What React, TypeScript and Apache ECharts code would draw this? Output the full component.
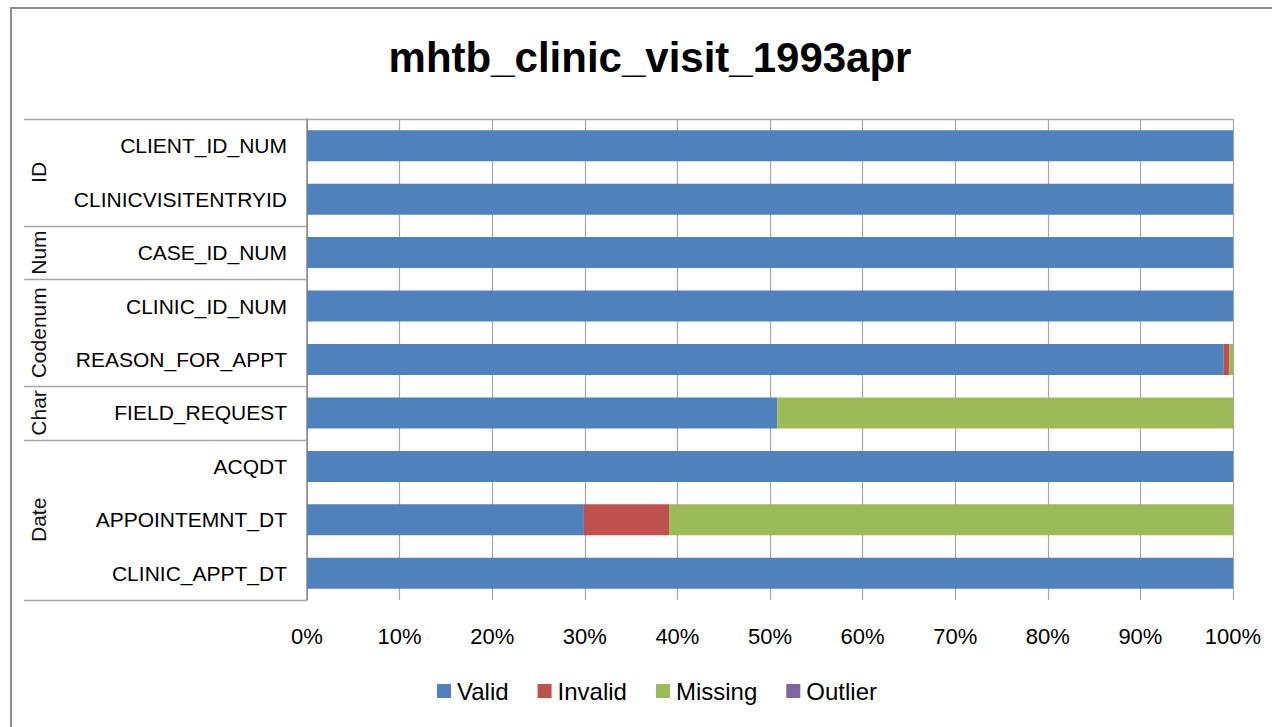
import React, { useEffect, useRef } from "react";
import * as echarts from "echarts";

const title = "mhtb_clinic_visit_1993apr";
const categories = [
  "CLIENT_ID_NUM",
  "CLINICVISITENTRYID",
  "CASE_ID_NUM",
  "CLINIC_ID_NUM",
  "REASON_FOR_APPT",
  "FIELD_REQUEST",
  "ACQDT",
  "APPOINTEMNT_DT",
  "CLINIC_APPT_DT",
];
const groups = [
  { name: "ID", count: 2 },
  { name: "Num", count: 1 },
  { name: "Codenum", count: 2 },
  { name: "Char", count: 1 },
  { name: "Date", count: 3 },
];
const validVals = [100, 100, 100, 100, 99.0, 50.8, 100, 29.9, 100];
const invalidVals = [0, 0, 0, 0, 0.6, 0, 0, 9.2, 0];
const missingVals = [0, 0, 0, 0, 0.4, 49.2, 0, 60.9, 0];
const outlierVals = [0, 0, 0, 0, 0, 0, 0, 0, 0];
const seriesNames = ["Valid", "Invalid", "Missing", "Outlier"];
const seriesColors = ["#4F81BD", "#C0504D", "#9BBB59", "#8064A2"];

const W = 1272;
const H = 727;
const GL = 307;
const GR = 1233;
const GT = 119;
const GB = 600;
const BOX_L = 24;
const FONT = "'Liberation Sans', Arial, sans-serif";

export default function App() {
  const ref = useRef<HTMLDivElement>(null);
  useEffect(() => {
    if (!ref.current) return;
    const chart = echarts.init(ref.current, null, { renderer: "svg" });
    const rowH = (GB - GT) / categories.length;
    const graphics: any[] = [
      {
        type: "rect",
        shape: { x: 11, y: 8, width: W + 20, height: H + 20 },
        style: { fill: "none", stroke: "#8C8C8C", lineWidth: 2 },
        silent: true,
      },
      {
        type: "line",
        shape: { x1: BOX_L, y1: GT + 0.5, x2: GR, y2: GT + 0.5 },
        style: { stroke: "#A6A6A6", lineWidth: 1.5 },
        silent: true,
      },
      {
        type: "text",
        x: 650,
        y: 57,
        style: {
          text: title,
          fontSize: 42,
          fontWeight: "bold",
          fontFamily: FONT,
          fill: "#000",
          align: "center",
          verticalAlign: "middle",
        },
        silent: true,
      },
    ];
    let k = 0;
    groups.forEach((g) => {
      const y0 = GT + k * rowH;
      k += g.count;
      const y1 = GT + k * rowH;
      graphics.push({
        type: "line",
        shape: { x1: BOX_L, y1: Math.round(y1) + 0.5, x2: GL, y2: Math.round(y1) + 0.5 },
        style: { stroke: "#A6A6A6", lineWidth: 1.5 },
        silent: true,
      });
      graphics.push({
        type: "text",
        x: 38,
        y: (y0 + y1) / 2,
        rotation: Math.PI / 2,
        style: {
          text: g.name,
          fontSize: 21,
          fontFamily: FONT,
          fill: "#111",
          align: "center",
          verticalAlign: "middle",
        },
        silent: true,
      });
    });

    const dataSets = [validVals, invalidVals, missingVals, outlierVals];
    chart.setOption({
      animation: false,
      backgroundColor: "#fff",
      legend: {
        data: seriesNames,
        top: 679,
        left: 437,
        icon: "rect",
        itemWidth: 14,
        itemHeight: 14,
        itemGap: 29,
        padding: 0,
        textStyle: { fontSize: 24, fontFamily: FONT, color: "#000", padding: [0, 0, 0, 1] },
      },
      grid: { left: GL, right: W - GR, top: GT, bottom: H - GB, containLabel: false },
      xAxis: {
        type: "value",
        min: 0,
        max: 100,
        interval: 10,
        axisLine: { show: false },
        axisTick: { show: false },
        axisLabel: {
          formatter: "{value}%",
          fontSize: 22,
          fontFamily: FONT,
          color: "#000",
          margin: 25,
        },
        splitLine: { show: true, lineStyle: { color: "#A6A6A6", width: 1.2 } },
      },
      yAxis: {
        type: "category",
        inverse: true,
        data: categories,
        axisLine: { show: true, lineStyle: { color: "#8C8C8C", width: 1.5 } },
        axisTick: { show: false },
        axisLabel: { fontSize: 21, fontFamily: FONT, color: "#000", margin: 20 },
        splitLine: { show: false },
      },
      series: seriesNames.map((name, i) => ({
        name,
        type: "bar",
        stack: "total",
        barWidth: 31,
        data: dataSets[i],
        itemStyle: { color: seriesColors[i] },
      })),
      graphic: graphics,
    });
    return () => chart.dispose();
  }, []);
  return (
    <div
      ref={ref}
      style={{ position: "absolute", left: 0, top: 0, width: W, height: H }}
    />
  );
}
